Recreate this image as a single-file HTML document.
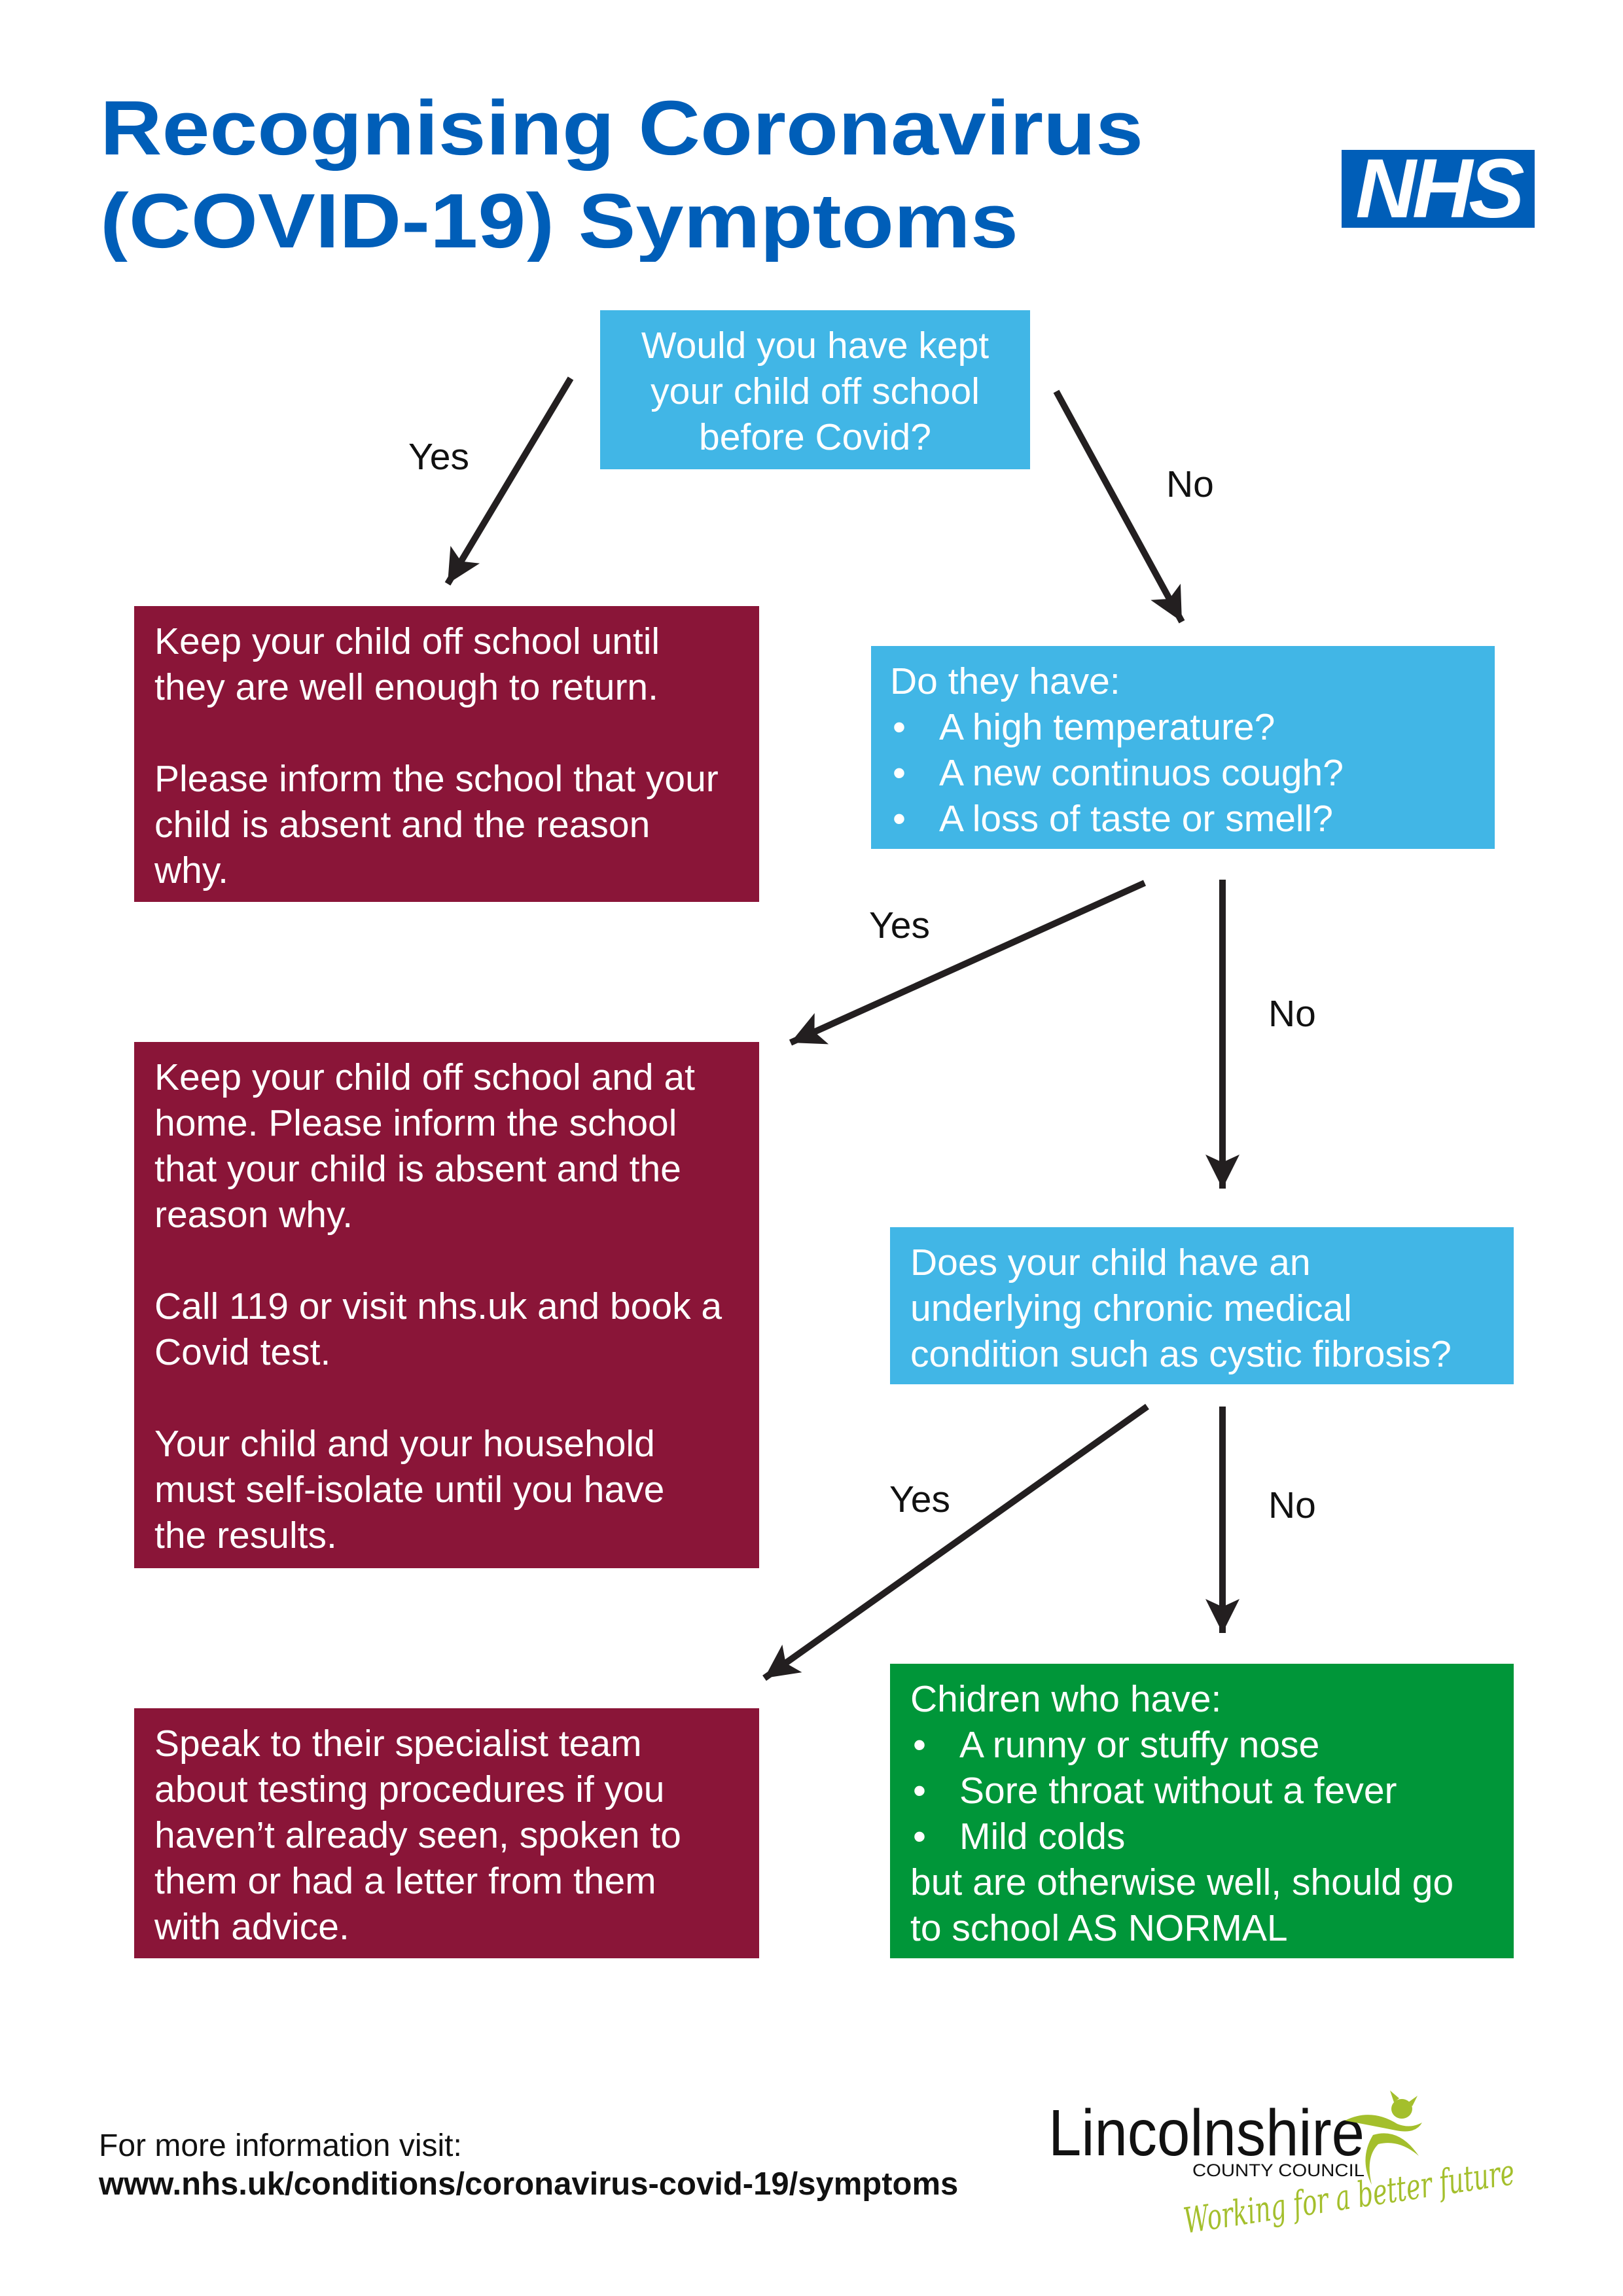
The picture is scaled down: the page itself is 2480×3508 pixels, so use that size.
<!DOCTYPE html>
<html><head><meta charset="utf-8"><style>
html,body{margin:0;padding:0;background:#fff}
body{width:2480px;height:3508px;position:relative;overflow:hidden;font-family:"Liberation Sans",Arial,sans-serif}
.box{position:absolute;box-sizing:border-box;color:#fff;font-size:57px;line-height:70px;padding:19px 20px 0 31px;white-space:nowrap}
.b{background:#41b6e6}.r{background:#8a1538}.g{background:#009639}
.li{position:relative;padding-left:75px}
.li:before{content:"•";position:absolute;left:4px;top:0}
.lbl{position:absolute;font-size:57px;line-height:60px;color:#111}
</style></head><body>
<svg style="position:absolute;left:0;top:0" width="2480" height="400">
<text x="153" y="236" font-family="Liberation Sans" font-weight="bold" font-size="118" textLength="1594" lengthAdjust="spacingAndGlyphs" fill="#005eb8">Recognising Coronavirus</text>
<text x="153" y="378" font-family="Liberation Sans" font-weight="bold" font-size="118" textLength="1403" lengthAdjust="spacingAndGlyphs" fill="#005eb8">(COVID-19) Symptoms</text>
</svg>
<div style="position:absolute;left:2050px;top:229px;width:295px;height:119px;background:#005eb8"></div>
<div style="position:absolute;left:2050px;top:229px;width:295px;height:119px;color:#fff;font-weight:bold;font-style:italic;font-size:128px;line-height:119px;text-align:center;letter-spacing:-6px">NHS</div>

<div class="box b" style="left:917px;top:474px;width:657px;height:243px;text-align:center;padding-left:0;padding-right:0">Would you have kept<br>your child off school<br>before Covid?</div>
<div class="box r" style="left:205px;top:926px;width:955px;height:452px">Keep your child off school until<br>they are well enough to return.<br><br>Please inform the school that your<br>child is absent and the reason<br>why.</div>
<div class="box b" style="left:1331px;top:987px;width:953px;height:310px;padding-left:29px">Do they have:<div class="li">A high temperature?</div><div class="li">A new continuos cough?</div><div class="li">A loss of taste or smell?</div></div>
<div class="box r" style="left:205px;top:1592px;width:955px;height:804px">Keep your child off school and at<br>home. Please inform the school<br>that your child is absent and the<br>reason why.<br><br>Call 119 or visit nhs.uk and book a<br>Covid test.<br><br>Your child and your household<br>must self-isolate until you have<br>the results.</div>
<div class="box b" style="left:1360px;top:1875px;width:953px;height:240px">Does your child have an<br>underlying chronic medical<br>condition such as cystic fibrosis?</div>
<div class="box r" style="left:205px;top:2610px;width:955px;height:382px">Speak to their specialist team<br>about testing procedures if you<br>haven’t already seen, spoken to<br>them or had a letter from them<br>with advice.</div>
<div class="box g" style="left:1360px;top:2542px;width:953px;height:450px">Chidren who have:<div class="li">A runny or stuffy nose</div><div class="li">Sore throat without a fever</div><div class="li">Mild colds</div>but are otherwise well, should go<br>to school AS NORMAL</div>

<div class="lbl" style="left:624px;top:668px">Yes</div>
<div class="lbl" style="left:1782px;top:710px">No</div>
<div class="lbl" style="left:1328px;top:1384px">Yes</div>
<div class="lbl" style="left:1938px;top:1519px">No</div>
<div class="lbl" style="left:1359px;top:2261px">Yes</div>
<div class="lbl" style="left:1938px;top:2270px">No</div>

<svg style="position:absolute;left:0;top:0" width="2480" height="3508">
<defs><marker id="a" markerUnits="userSpaceOnUse" markerWidth="80" markerHeight="80" refX="60" refY="30" orient="auto"><path d="M60,30 L8,4 L20,30 L8,56 Z" fill="#231f20"/></marker></defs>
<g stroke="#231f20" stroke-width="10" fill="none" marker-end="url(#a)">
<line x1="872" y1="578" x2="684" y2="892"/>
<line x1="1614" y1="598" x2="1806" y2="950"/>
<line x1="1749" y1="1349" x2="1208" y2="1593"/>
<line x1="1868" y1="1344" x2="1868" y2="1816"/>
<line x1="1753" y1="2149" x2="1168" y2="2564"/>
<line x1="1868" y1="2149" x2="1868" y2="2495"/>
</g>
<text x="1602" y="3293" font-family="Liberation Sans" font-size="100" textLength="483" lengthAdjust="spacingAndGlyphs" fill="#111">Lincolnshire</text>
<text x="1822" y="3325" font-family="Liberation Sans" font-size="27" textLength="263" lengthAdjust="spacingAndGlyphs" fill="#111">COUNTY COUNCIL</text>
<text x="1812" y="3412" transform="rotate(-8.5 1812 3412)" font-family="DejaVu Serif" font-style="italic" font-size="54" textLength="510" lengthAdjust="spacingAndGlyphs" fill="#a4bf2c">Working for a better future</text>
<g fill="#a4bf2c">
<ellipse cx="2142" cy="3222" rx="16" ry="15"/>
<path d="M2130,3212 l-6,-18 l14,12 Z M2152,3212 l14,-10 l-8,16 Z"/>
<path d="M2055,3240 q40,-20 80,5 q20,8 38,-2 q-10,18 -40,12 q-40,-8 -78,-15 Z"/>
<path d="M2098,3262 q40,-12 70,32 q-30,-26 -62,-18 q-20,20 -10,62 q-20,-40 2,-76 Z"/>
</g>
</svg>

<div style="position:absolute;left:151px;top:3250px;font-size:48px;line-height:58px;color:#111;white-space:nowrap">For more information visit:<br><b style="font-size:49px">www.nhs.uk/conditions/coronavirus-covid-19/symptoms</b></div>
</body></html>
